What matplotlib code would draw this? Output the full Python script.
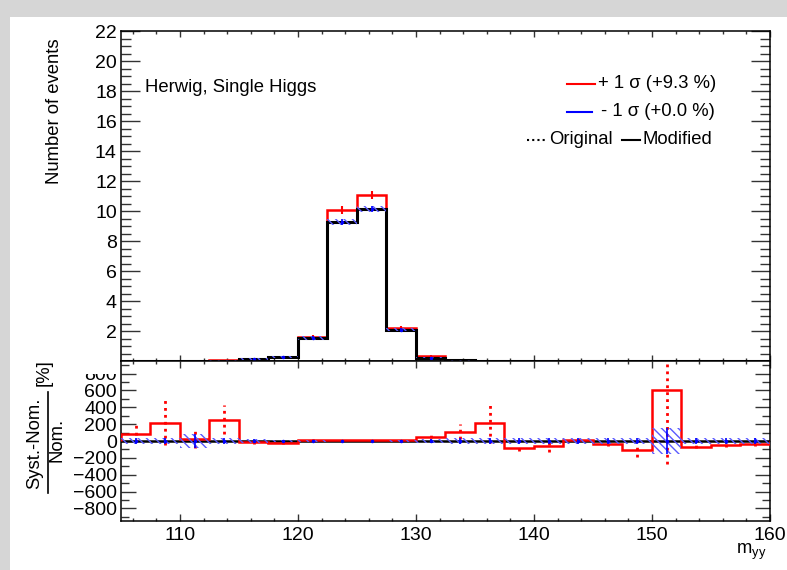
import matplotlib
matplotlib.use("Agg")
import matplotlib.pyplot as plt
import numpy as np
from matplotlib.lines import Line2D
from matplotlib.patches import Rectangle
from matplotlib.ticker import MultipleLocator

plt.rcParams['font.family'] = ['Liberation Sans', 'DejaVu Sans']
plt.rcParams['mathtext.fontset'] = 'custom'
plt.rcParams['mathtext.rm'] = 'Liberation Sans'
plt.rcParams['hatch.linewidth'] = 1.0

# binning: 2.5 GeV bins from 105 to 160
bin_edges = [105.0, 107.5, 110.0, 112.5, 115.0, 117.5, 120.0, 122.5, 125.0, 127.5,
             130.0, 132.5, 135.0, 137.5, 140.0, 142.5, 145.0, 147.5, 150.0, 152.5,
             155.0, 157.5, 160.0]

# upper panel: nominal (black) and +1 sigma (red)
nominal = [0.0, 0.0, 0.01, 0.02, 0.15, 0.25, 1.55, 9.25, 10.15, 2.07, 0.22,
           0.05, 0.02, 0.01, 0.01, 0.0, 0.0, 0.0, 0.0, 0.0, 0.0, 0.0]
nominal_err = [0.0, 0.0, 0.01, 0.02, 0.05, 0.06, 0.12, 0.2, 0.2, 0.1, 0.05,
               0.02, 0.01, 0.01, 0.01, 0.0, 0.0, 0.0, 0.0, 0.0, 0.0, 0.0]
up = [0.0, 0.0, 0.01, 0.06, 0.16, 0.26, 1.63, 10.07, 11.05, 2.2, 0.35,
      0.1, 0.03, 0.01, 0.01, 0.0, 0.0, 0.0, 0.0, 0.0, 0.0, 0.0]
up_err = [0.0, 0.0, 0.01, 0.03, 0.05, 0.06, 0.12, 0.25, 0.28, 0.12, 0.06,
          0.03, 0.01, 0.01, 0.01, 0.0, 0.0, 0.0, 0.0, 0.0, 0.0, 0.0]

# lower panel: (syst - nom) / nom in %
ratio_up = [87, 218, 24, 254, -16, -24, 16, 10, 10, 6, 52,
            111, 210, -87, -56, 16, -36, -107, 611, -67, -50, -40]
ratio_up_err = [100, 266, 110, 170, 15, 15, 8, 6, 6, 8, 20,
                91, 230, 30, 79, 20, 20, 87, 885, 20, 20, 20]
ratio_down = [0, 0, 0, 0, 0, 0, 0, 0, 0, 0, 0,
              0, 0, 0, 0, 0, 0, 0, 0, 0, 0, 0]
ratio_down_err = [40, 30, 80, 40, 25, 15, 8, 5, 5, 10, 20,
                  30, 30, 35, 40, 40, 40, 40, 150, 40, 40, 40]

top_yticks = [0, 2, 4, 6, 8, 10, 12, 14, 16, 18, 20, 22]
bottom_yticks = [-800, -600, -400, -200, 0, 200, 400, 600, 800]
x_ticks = [110, 120, 130, 140, 150, 160]

W, H = 787, 570


def fx(x):
    return x / W


def fy(y):
    return 1 - y / H


edges = np.array(bin_edges)
centers = (edges[:-1] + edges[1:]) / 2
widths = np.diff(edges)
nominal = np.array(nominal)
nominal_err = np.array(nominal_err)
up = np.array(up)
up_err = np.array(up_err)
ratio_up = np.array(ratio_up)
ratio_up_err = np.array(ratio_up_err)
ratio_down = np.array(ratio_down)
ratio_down_err = np.array(ratio_down_err)

fig = plt.figure(figsize=(W / 100, H / 100), dpi=100, facecolor='#d6d6d6')
fig.add_artist(Rectangle((fx(10), 0), 1 - fx(10), fy(17), transform=fig.transFigure,
                         facecolor='white', edgecolor='none', zorder=-10))

ax = fig.add_axes([fx(121), fy(361), fx(770) - fx(121), fy(31) - fy(361)])
rax = fig.add_axes([fx(121), fy(521), fx(770) - fx(121), fy(361) - fy(521)])

# ---- upper panel
ax.stairs(up, edges, color='red', lw=1.8, zorder=2)
mask = up > 0.05
ax.vlines(centers[mask], (up - up_err)[mask], (up + up_err)[mask], colors='red', lw=1.5, zorder=2)
ax.stairs(nominal, edges, color='black', lw=2.2, zorder=3)
ax.bar(edges[:-1], 2 * nominal_err, bottom=nominal - nominal_err, width=widths, align='edge',
       fill=False, hatch='\\\\\\\\', edgecolor='#5a5aff', linewidth=0, zorder=4)
mask = nominal > 0.05
ax.errorbar(centers[mask], nominal[mask], yerr=nominal_err[mask], fmt='.', ms=3,
            color='blue', lw=1.2, capsize=0, zorder=5)

ax.set_xlim(105, 160)
ax.set_ylim(0, 22)
ax.set_yticks(top_yticks)
ax.set_yticklabels(['' if t == 0 else str(t) for t in top_yticks])
ax.yaxis.set_minor_locator(MultipleLocator(0.5))
ax.set_xticks(x_ticks)
ax.xaxis.set_minor_locator(MultipleLocator(2))
ax.tick_params(labelbottom=False)
ax.tick_params(axis='y', which='major', length=14)
ax.tick_params(axis='y', which='minor', length=7)
ax.tick_params(axis='x', which='major', length=4)
ax.tick_params(axis='x', which='minor', length=2.5)

ax.text(fx(145), fy(88), 'Herwig, Single Higgs', transform=fig.transFigure,
        fontsize=13.3, ha='left', va='center')

# ---- ratio panel
rax.axhline(0, color='black', lw=1.8, zorder=3)
rax.stairs(ratio_up, edges, color='red', lw=1.8, zorder=4)
rax.vlines(centers, ratio_up - ratio_up_err, ratio_up + ratio_up_err, colors='red',
           linestyles=(0, (1, 1.5)), lw=2, zorder=4)
rax.bar(edges[:-1], 2 * ratio_down_err, bottom=ratio_down - ratio_down_err, width=widths,
        align='edge', fill=False, hatch='\\\\\\\\', edgecolor='#5a5aff', linewidth=0, zorder=5)
rax.vlines(centers, ratio_down - ratio_down_err, ratio_down + ratio_down_err,
           colors='blue', lw=1.2, zorder=5)
rax.plot(centers, ratio_down, '.', ms=3, color='blue', zorder=5)

rax.set_xlim(105, 160)
rax.set_ylim(-950, 950)
rax.set_yticks(bottom_yticks)
rax.yaxis.set_minor_locator(MultipleLocator(100))
rax.set_xticks(x_ticks)
rax.xaxis.set_minor_locator(MultipleLocator(2))
rax.tick_params(axis='y', which='major', length=11)
rax.tick_params(axis='y', which='minor', length=6)
rax.tick_params(axis='x', which='major', length=5)
rax.tick_params(axis='x', which='minor', length=2.5)

for a in (ax, rax):
    a.tick_params(which='both', direction='in', top=True, right=True, width=1,
                  labelsize=14, color='#333333')
    a.tick_params(axis='y', pad=3)
    for s in a.spines.values():
        s.set_linewidth(1.1)
rax.tick_params(axis='x', pad=4)

# the upper pad hides the top half of the "800" label
fig.add_artist(Rectangle((fx(60), fy(374)), fx(119) - fx(60), fy(355) - fy(374),
                         transform=fig.transFigure, facecolor='white', edgecolor='none', zorder=5))

# axis titles
fig.text(fx(55), fy(38), 'Number of events', rotation=90, ha='center', va='top', fontsize=13.3)
fig.text(fx(766), fy(552), r'm$_{\mathregular{yy}}$', ha='right', va='center', fontsize=13.3)
fig.text(fx(35), fy(443), 'Syst.-Nom.', rotation=90, ha='center', va='center', fontsize=13.3)
fig.add_artist(Line2D([fx(48), fx(48)], [fy(392), fy(493)], color='black', lw=1.2))
fig.text(fx(57), fy(440), 'Nom.', rotation=90, ha='center', va='center', fontsize=13.3)
fig.text(fx(44), fy(373), '[%]', rotation=90, ha='center', va='center', fontsize=13.3)

# legend
fig.add_artist(Line2D([fx(567), fx(595)], [fy(84), fy(84)], color='red', lw=1.5))
fig.text(fx(598), fy(84), '+ 1 σ (+9.3 %)', ha='left', va='center', fontsize=13.3)
fig.add_artist(Line2D([fx(567), fx(592)], [fy(112), fy(112)], color='blue', lw=1.5))
fig.text(fx(601), fy(112), '- 1 σ (+0.0 %)', ha='left', va='center', fontsize=13.3)
fig.add_artist(Line2D([fx(527), fx(545)], [fy(140), fy(140)], color='black', lw=1.5,
                      linestyle=(0, (1, 1.5))))
fig.text(fx(549), fy(140), 'Original', ha='left', va='center', fontsize=13.3)
fig.add_artist(Line2D([fx(622), fx(640)], [fy(140), fy(140)], color='black', lw=1.5))
fig.text(fx(643), fy(140), 'Modified', ha='left', va='center', fontsize=13.3)

fig.savefig('out.png', dpi=100, facecolor=fig.get_facecolor())
